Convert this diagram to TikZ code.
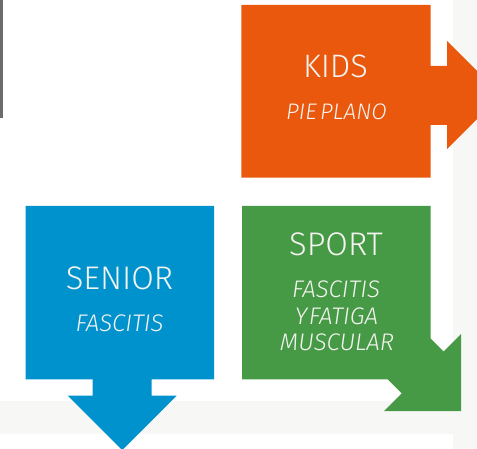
\documentclass[tikz,border=0pt]{standalone}
\usepackage{fontspec}
\setmainfont{Fira Sans}[UprightFont={* Light}, ItalicFont={* Light Italic}]
\definecolor{kidsor}{HTML}{E9580C}
\definecolor{sportgr}{HTML}{479A45}
\definecolor{seniorbl}{HTML}{0092CC}
\definecolor{bggrey}{HTML}{F7F8F6}
\definecolor{txtw}{HTML}{F4F4F2}
\tikzset{
  title/.style={inner sep=0pt, anchor=base, text=txtw, font=\fontsize{32.7}{36}\selectfont},
  subtitle/.style={inner sep=0pt, anchor=base, text=txtw, font=\fontsize{24}{27}\selectfont\itshape},
  block/.style={draw=none}
}
\begin{document}
\begin{tikzpicture}[x=1pt,y=-1pt]
\useasboundingbox (0,0) rectangle (477,449);
% background bands
\fill[bggrey] (452.7,0) rectangle (477,449);
\fill[bggrey] (0,401) rectangle (452.7,434);
% left edge line
\fill[black!58] (0,0) rectangle (2.6,118);
\begin{scope}
\clip (0,0) rectangle (477,449);
% orange block with right arrow
\fill[kidsor] (241.3,5) -- (430.5,5) -- (430.5,66) -- (447,66) -- (447,41) -- (501,95)
  -- (447,149) -- (447,125) -- (430.5,125) -- (430.5,177.7) -- (241.3,177.7) -- cycle;
% blue block with down arrow
\fill[seniorbl] (25.7,206) -- (214,206) -- (214,379.3) -- (151.7,379.3) -- (151.7,395.7)
  -- (176.7,395.7) -- (122.2,450.2) -- (67.7,395.7) -- (92.7,395.7) -- (92.7,379.3)
  -- (25.7,379.3) -- cycle;
% green block with diagonal arrow
\fill[sportgr] (242,206) -- (430.5,206) -- (430.5,338.5) -- (443.5,351.5) -- (461,334)
  -- (461,411) -- (384,411) -- (401.7,393.3) -- (387.7,379.3) -- (242,379.3) -- cycle;
\end{scope}
% texts
\node[title, font=\fontsize{32.5}{36}\selectfont] (kids) at (335.5,77.7) {KIDS};
\node[subtitle, font=\fontsize{22.5}{25}\selectfont\itshape] (kidssub) at (336.5,120) {PIE\hspace{3.5pt}PLANO};
\node[title] (sport) at (336,255.6) {SPORT};
\node[subtitle] (sport1) at (336,297.7) {FASCITIS};
\node[subtitle] (sport2) at (336.5,324.3) {Y\hspace{1.5pt}FATIGA};
\node[subtitle] (sport3) at (337,351) {MUSCULAR};
\node[title] (senior) at (119.5,289.3) {SENIOR};
\node[subtitle] (seniorsub) at (119.5,331.7) {FASCITIS};
\end{tikzpicture}
\end{document}
